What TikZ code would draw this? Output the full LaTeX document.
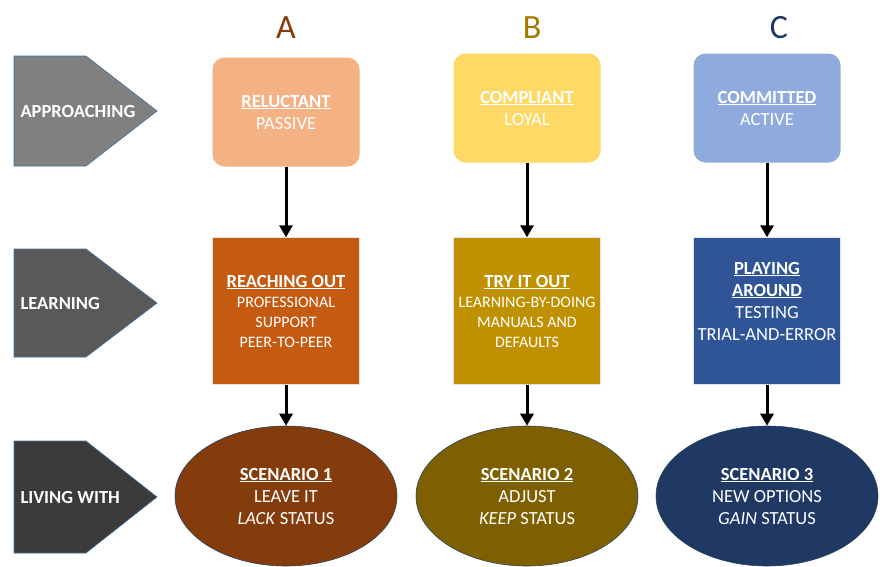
\documentclass[tikz,border=0pt]{standalone}
\usepackage{fontspec}
\setmainfont{Carlito}
\usepackage{tikz}
\usetikzlibrary{shapes.geometric}
\usetikzlibrary{arrows.meta}

\definecolor{peach}{HTML}{F4B183}
\definecolor{sun}{HTML}{FFD966}
\definecolor{sky}{HTML}{8FAADC}
\definecolor{rust}{HTML}{C55A11}
\definecolor{ochre}{HTML}{BF9000}
\definecolor{navy}{HTML}{2F5597}
\definecolor{brownA}{HTML}{843C0C}
\definecolor{brownB}{HTML}{7F6000}
\definecolor{navyC}{HTML}{203864}
\definecolor{edge}{HTML}{41719C}

\tikzset{
  phase/.style={draw=edge, line width=0.6pt},
  phasetext/.style={anchor=west, text=white, font=\fontsize{18.5}{20}\selectfont\bfseries},
  stage/.style={minimum width=147pt, minimum height=109pt, rounded corners=12pt,
    text=white, align=center, font=\fontsize{18.5}{22}\selectfont},
  method/.style={draw=white!80!gray, minimum width=147pt, minimum height=147pt,
    text=white, align=center},
  outcome/.style={ellipse, draw=edge!60!black, line width=0.6pt, minimum width=222pt,
    minimum height=140pt, text=white, align=center, font=\fontsize{18.5}{22}\selectfont},
  flow/.style={-{Triangle[length=12pt,width=13pt]}, line width=3pt},
  head/.style={font=\fontsize{34}{34}\selectfont}
}

\begin{document}
\begin{tikzpicture}[x=1pt,y=-1pt]
\useasboundingbox (0,0) rectangle (880,566);

% phases on the left
\fill[black!50] (14,56) -- (86,56) -- (157,111) -- (86,166) -- (14,166) -- cycle;
\draw[phase] (14,56) -- (86,56) -- (157,111) -- (86,166) -- (14,166) -- cycle;
\fill[black!65] (14,249) -- (86,249) -- (157,303) -- (86,357) -- (14,357) -- cycle;
\draw[phase] (14,249) -- (86,249) -- (157,303) -- (86,357) -- (14,357) -- cycle;
\fill[black!77] (14,441) -- (86,441) -- (157,497) -- (86,553) -- (14,553) -- cycle;
\draw[phase] (14,441) -- (86,441) -- (157,497) -- (86,553) -- (14,553) -- cycle;
\node[phasetext] (approach) at (17,111) {APPROACHING};
\node[phasetext] (learn) at (17,303) {LEARNING};
\node[phasetext] (live) at (17,497) {LIVING WITH};

% column heads
\node[head, text=brownA] (hA) at (286,28) {A};
\node[head, text=ochre!85!black] (hB) at (532,28) {B};
\node[head, text=navyC] (hC) at (779,28) {C};

% first row
\node[stage, fill=peach] (relA) at (286,112) {\underline{\textbf{RELUCTANT}}\\PASSIVE};
\node[stage, fill=sun] (relB) at (527,108) {\underline{\textbf{COMPLIANT}}\\LOYAL};
\node[stage, fill=sky] (relC) at (767,108) {\underline{\textbf{COMMITTED}}\\ACTIVE};

% second row
\node[method, fill=rust, font=\fontsize{16}{20}\selectfont] (lrnA) at (286,311)
  {{\fontsize{18.5}{20}\selectfont\underline{\textbf{REACHING OUT}}}\\PROFESSIONAL\\SUPPORT\\PEER-TO-PEER};
\node[method, fill=ochre, font=\fontsize{16}{20}\selectfont] (lrnB) at (527,311)
  {{\fontsize{18.5}{20}\selectfont\underline{\textbf{TRY IT OUT}}}\\LEARNING-BY-DOING\\MANUALS AND\\DEFAULTS};
\node[method, fill=navy] (lrnC) at (767,311) {};
\node[text=white, align=center, font=\fontsize{18.5}{22}\selectfont] (lrnCtext) at (767,301)
  {\underline{\textbf{PLAYING}}\\\underline{\textbf{AROUND}}\\TESTING\\TRIAL-AND-ERROR};

% third row
\node[outcome, fill=brownA] (endA) at (286,496) {\underline{\textbf{SCENARIO 1}}\\LEAVE IT\\\textit{LACK} STATUS};
\node[outcome, fill=brownB] (endB) at (527,496) {\underline{\textbf{SCENARIO 2}}\\ADJUST\\\textit{KEEP} STATUS};
\node[outcome, fill=navyC] (endC) at (767,496) {\underline{\textbf{SCENARIO 3}}\\NEW OPTIONS\\\textit{GAIN} STATUS};

% arrows
\draw[flow] (relA) -- (lrnA);
\draw[flow] (relB) -- (lrnB);
\draw[flow] (relC) -- (lrnC);
\draw[flow] (lrnA) -- (endA);
\draw[flow] (lrnB) -- (endB);
\draw[flow] (lrnC) -- (endC);
\end{tikzpicture}
\end{document}
